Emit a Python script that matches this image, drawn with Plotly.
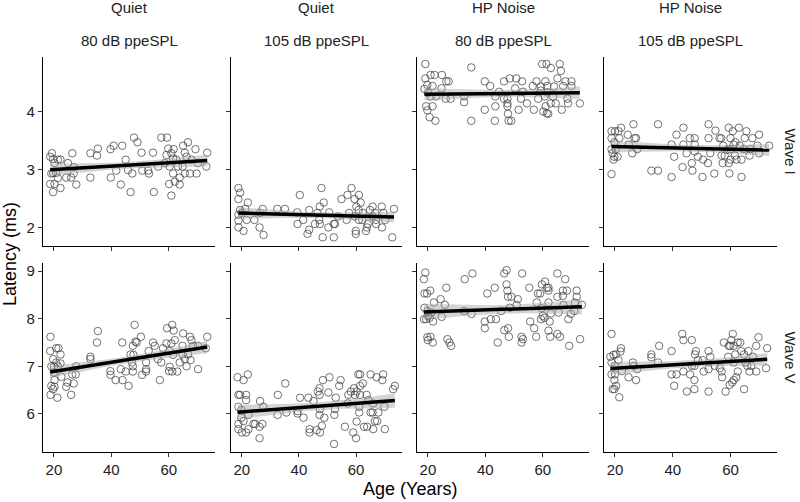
import numpy as np
import plotly.graph_objects as go

# facet labels
col_top = ["Quiet", "Quiet", "HP Noise", "HP Noise"]
col_bottom = ["80 dB ppeSPL", "105 dB ppeSPL", "80 dB ppeSPL", "105 dB ppeSPL"]
row_labels = ["Wave I", "Wave V"]

# Wave I, Quiet, 80 dB
age_q80_w1 = [19.3, 18.7, 19.7, 21.4, 22.3, 20.2, 24.9, 26.4, 26.9, 19.7, 20.8, 19.1, 26.9, 21.4, 24.3, 26.0,
              27.8, 18.7, 20.2, 22.3, 19.7, 32.7, 35.0, 35.3, 32.7, 39.7, 40.8, 43.8, 45.0, 41.7, 39.8, 43.3,
              46.7, 45.8, 47.3, 47.9, 49.1, 50.5, 50.8, 52.8, 53.1, 54.8, 54.5, 56.3, 57.4, 59.4, 59.8, 59.2,
              60.9, 61.7, 61.5, 60.3, 61.5, 60.1, 60.9, 62.1, 63.8, 63.8, 65.0, 66.7, 65.6, 66.2, 67.9, 64.8,
              67.4, 65.6, 69.3, 69.7, 70.2, 73.4, 73.1, 63.2, 62.6, 58.6]
lat_q80_w1 = [3.28, 3.22, 3.18, 3.17, 3.17, 3.11, 3.11, 3.28, 3.04, 2.94, 2.94, 2.93, 2.93, 2.85, 2.86, 2.86,
              2.74, 2.75, 2.75, 2.68, 2.61, 3.28, 3.24, 3.36, 2.86, 3.35, 3.41, 3.41, 3.17, 2.98, 2.86, 2.74,
              2.61, 2.99, 2.93, 3.55, 3.47, 3.29, 2.98, 2.98, 2.93, 2.61, 3.29, 3.05, 3.55, 3.55, 3.36, 3.25,
              3.28, 3.35, 3.19, 3.05, 2.93, 2.75, 2.55, 2.79, 2.86, 2.74, 3.41, 3.47, 3.29, 3.22, 3.17, 3.05,
              2.93, 2.93, 3.35, 2.93, 3.11, 3.29, 3.05, 3.05, 3.17, 3.11]

# Wave I, Quiet, 105 dB
age_q105_w1 = [18.8, 19.4, 18.8, 22.1, 19.4, 21.2, 18.8, 20.0, 18.8, 21.7, 24.4, 18.8, 20.6, 26.2, 27.6, 26.4,
               27.3, 32.4, 35.1, 40.3, 39.4, 41.5, 39.5, 43.6, 43.6, 43.0, 47.9, 48.7, 47.3, 46.5, 47.1, 45.6,
               47.3, 48.3, 50.6, 50.3, 52.2, 52.6, 52.2, 54.9, 53.7, 57.0, 58.4, 56.7, 57.6, 59.5, 61.0, 61.6,
               60.1, 60.9, 59.5, 61.0, 59.9, 59.9, 62.4, 63.5, 64.1, 63.8, 64.9, 65.8, 65.8, 66.7, 67.0, 69.0,
               69.6, 69.1, 70.2, 73.3, 72.7, 62.2, 67.0]
lat_q105_w1 = [2.68, 2.60, 2.49, 2.43, 2.30, 2.32, 2.22, 2.25, 2.12, 2.13, 2.13, 2.00, 1.94, 2.00, 1.87, 2.25,
               2.32, 2.32, 2.32, 2.56, 2.26, 2.13, 2.06, 2.30, 1.96, 1.89, 2.68, 2.43, 2.36, 2.25, 2.13, 2.06,
               2.06, 1.83, 2.26, 2.00, 2.06, 2.06, 1.83, 2.49, 2.19, 2.56, 2.68, 2.13, 2.25, 2.49, 2.56, 2.43,
               2.36, 2.30, 2.19, 2.13, 1.94, 1.89, 2.25, 1.94, 2.06, 2.00, 2.30, 2.36, 2.19, 2.25, 2.06, 2.36,
               2.25, 2.00, 2.13, 2.32, 1.83, 2.13, 2.13]

# Wave I, HP Noise, 80 dB
age_n80_w1 = [19.1, 35.1, 59.8, 61.3, 65.9, 62.8, 66.3, 20.9, 22.3, 24.9, 19.1, 26.4, 27.2, 19.8, 39.8, 46.5,
              48.5, 50.8, 52.8, 57.8, 60.9, 65.1, 67.9, 70.0, 21.6, 18.8, 24.7, 20.0, 20.9, 22.9, 41.7, 50.4,
              56.5, 59.3, 61.6, 63.9, 67.1, 70.0, 44.8, 53.1, 59.3, 61.6, 26.2, 27.9, 32.6, 43.5, 46.5, 47.7,
              52.4, 58.4, 60.7, 63.6, 68.6, 32.6, 19.4, 21.6, 47.7, 54.5, 62.8, 64.5, 68.8, 72.9, 43.5, 47.7,
              61.0, 19.8, 39.8, 51.6, 56.9, 66.6, 60.2, 61.4, 61.9, 47.9, 20.6, 48.1, 22.6, 35.1, 43.3, 49.0]
lat_n80_w1 = [4.82, 4.76, 4.82, 4.82, 4.82, 4.75, 4.70, 4.63, 4.63, 4.63, 4.57, 4.52, 4.52, 4.46, 4.52, 4.52,
              4.57, 4.57, 4.52, 4.52, 4.52, 4.57, 4.52, 4.52, 4.44, 4.39, 4.40, 4.32, 4.26, 4.26, 4.44, 4.40,
              4.44, 4.43, 4.44, 4.43, 4.44, 4.44, 4.34, 4.34, 4.36, 4.33, 4.22, 4.22, 4.26, 4.26, 4.22, 4.22,
              4.22, 4.22, 4.26, 4.26, 4.22, 4.16, 4.09, 4.09, 4.14, 4.14, 4.14, 4.14, 4.14, 4.14, 4.09, 4.09,
              4.09, 4.02, 4.03, 4.03, 4.03, 4.03, 4.00, 3.97, 3.96, 3.96, 3.90, 3.84, 3.84, 3.84, 3.84, 3.84]

# Wave I, HP Noise, 105 dB
age_n105_w1 = [18.8, 20.0, 21.2, 22.1, 26.4, 34.9, 43.7, 52.4, 59.4, 62.9, 54.8, 60.8, 65.5, 18.8, 21.5, 24.4,
               26.8, 27.3, 41.3, 45.9, 47.6, 52.4, 56.2, 56.8, 60.0, 64.9, 67.6, 69.9, 19.8, 24.8, 27.7, 18.8,
               26.0, 39.6, 43.7, 47.6, 57.5, 61.1, 61.7, 63.2, 69.3, 73.4, 20.3, 44.8, 47.6, 48.7, 53.0, 58.8,
               60.0, 64.6, 66.9, 69.9, 19.2, 19.5, 20.9, 19.8, 40.5, 50.5, 56.9, 58.0, 61.5, 62.1, 63.8, 66.6,
               60.0, 46.6, 52.2, 57.3, 59.4, 43.4, 46.8, 18.8, 32.6, 34.9, 39.6, 50.3, 54.4, 59.6, 63.8]
lat_n105_w1 = [3.66, 3.66, 3.66, 3.72, 3.78, 3.78, 3.72, 3.78, 3.72, 3.72, 3.67, 3.66, 3.66, 3.54, 3.54, 3.60,
               3.54, 3.54, 3.60, 3.54, 3.54, 3.54, 3.54, 3.54, 3.54, 3.54, 3.54, 3.60, 3.47, 3.43, 3.35, 3.35,
               3.28, 3.43, 3.43, 3.43, 3.41, 3.43, 3.47, 3.41, 3.41, 3.41, 3.35, 3.28, 3.31, 3.22, 3.28, 3.34,
               3.35, 3.35, 3.35, 3.28, 3.28, 3.17, 3.22, 3.22, 3.22, 3.17, 3.24, 3.24, 3.24, 3.17, 3.17, 3.24,
               3.17, 3.11, 3.11, 3.11, 3.11, 3.04, 2.98, 2.92, 2.98, 2.98, 2.87, 2.87, 2.93, 2.93, 2.87]

# Wave V, Quiet, 80 dB
age_q80_w5 = [18.8, 18.7, 20.8, 21.6, 22.3, 19.7, 20.8, 22.3, 19.1, 20.0, 21.4, 27.8, 20.0, 26.4, 27.6, 22.6,
              20.2, 24.7, 26.9, 19.1, 20.2, 19.7, 24.3, 18.8, 26.0, 21.2, 32.7, 32.7, 35.3, 35.0, 39.7, 39.7,
              41.5, 43.3, 43.8, 43.9, 45.0, 46.0, 46.7, 47.5, 48.1, 48.4, 47.7, 47.2, 47.5, 47.5, 48.8, 50.3,
              50.7, 52.1, 52.1, 52.1, 53.0, 54.5, 55.1, 56.2, 56.9, 57.4, 58.0, 59.2, 59.4, 61.2, 61.7, 60.3,
              60.9, 61.5, 60.3, 60.1, 61.2, 63.0, 62.1, 63.8, 65.0, 64.8, 64.8, 65.6, 66.2, 66.7, 67.4, 67.9,
              67.6, 68.5, 70.2, 70.2, 73.4, 72.9]
lat_q80_w5 = [7.62, 7.32, 7.38, 7.38, 7.25, 7.15, 7.08, 7.06, 7.00, 6.99, 7.00, 7.00, 6.87, 6.83, 6.83, 6.78,
              6.71, 6.66, 6.64, 6.59, 6.57, 6.52, 6.57, 6.40, 6.40, 6.34, 7.20, 7.15, 7.74, 7.50, 6.90, 6.82,
              6.71, 6.94, 7.50, 6.71, 6.89, 6.59, 7.25, 7.43, 7.87, 7.52, 7.24, 7.08, 7.00, 6.89, 7.50, 7.62,
              6.82, 7.08, 6.94, 6.89, 7.32, 7.50, 7.43, 7.15, 6.71, 7.08, 7.38, 7.48, 7.80, 7.87, 7.75, 7.32,
              7.48, 7.24, 6.99, 6.90, 6.89, 6.89, 7.55, 7.08, 7.69, 7.43, 7.25, 7.15, 7.00, 7.25, 7.62, 7.55,
              7.13, 7.43, 6.94, 7.43, 7.62, 7.38]

# Wave V, Quiet, 105 dB
age_q105_w5 = [18.5, 22.1, 20.6, 35.2, 47.2, 48.4, 50.7, 54.6, 54.1, 61.4, 60.8, 65.1, 67.2, 69.5, 69.2, 18.8,
               19.4, 21.5, 21.5, 32.6, 40.4, 43.3, 46.6, 47.2, 50.3, 52.9, 57.3, 58.2, 59.3, 59.6, 60.2, 61.4,
               62.4, 61.4, 63.7, 64.3, 66.0, 18.8, 19.8, 22.3, 26.4, 27.5, 35.6, 32.5, 39.5, 39.5, 41.6, 45.1,
               47.2, 47.4, 48.9, 52.6, 52.4, 57.1, 61.1, 61.1, 60.2, 65.1, 65.8, 67.8, 69.9, 73.0, 73.6, 19.8,
               20.6, 18.8, 24.1, 24.7, 27.2, 26.2, 18.8, 20.0, 21.5, 22.3, 26.2, 43.7, 43.7, 46.2, 47.4, 48.0,
               52.3, 56.1, 59.0, 60.0, 62.8, 63.9, 66.0, 66.6, 67.4, 70.1]
lat_q105_w5 = [6.77, 6.83, 6.71, 6.64, 6.54, 6.71, 6.77, 6.71, 6.59, 6.83, 6.83, 6.83, 6.77, 6.83, 6.71, 6.40,
               6.40, 6.40, 6.29, 6.40, 6.34, 6.34, 6.47, 6.40, 6.45, 6.34, 6.40, 6.47, 6.54, 6.40, 6.47, 6.59,
               6.64, 6.40, 6.40, 6.29, 6.22, 6.15, 6.08, 5.98, 6.27, 6.15, 6.03, 5.98, 6.06, 6.01, 5.92, 6.27,
               5.98, 6.10, 5.92, 6.10, 5.98, 6.22, 6.15, 6.03, 5.84, 6.03, 6.03, 6.03, 6.15, 6.52, 6.59, 5.92,
               5.85, 5.79, 5.79, 5.79, 5.79, 5.73, 5.68, 5.61, 5.61, 5.68, 5.49, 5.68, 5.61, 5.66, 5.61, 5.75,
               5.37, 5.73, 5.61, 5.49, 5.73, 5.73, 5.68, 5.85, 5.85, 5.68]

# Wave V, HP Noise, 80 dB
age_n80_w5 = [19.1, 18.6, 18.8, 19.7, 20.8, 26.4, 24.4, 22.1, 25.9, 18.8, 19.8, 21.2, 20.0, 18.6, 19.4, 20.6,
              21.8, 24.8, 19.8, 20.9, 20.0, 21.7, 26.8, 27.5, 28.1, 32.8, 35.5, 32.6, 35.2, 40.7, 43.3, 39.8,
              41.9, 43.7, 39.8, 44.3, 45.5, 46.6, 47.4, 47.4, 47.7, 47.9, 49.1, 48.5, 46.6, 47.9, 48.2, 51.3,
              50.9, 52.8, 52.6, 53.1, 52.6, 55.3, 55.6, 57.0, 57.7, 57.9, 58.3, 59.1, 59.7, 60.8, 61.4, 62.0,
              62.0, 59.6, 60.0, 59.4, 60.6, 62.0, 62.4, 62.0, 62.8, 62.6, 65.1, 65.1, 66.0, 65.5, 67.0, 67.0,
              67.2, 67.8, 68.4, 68.9, 69.2, 69.8, 71.2, 71.8, 71.8, 71.0, 73.6, 73.0, 65.1]
lat_n80_w5 = [8.97, 8.83, 8.53, 8.53, 8.59, 8.65, 8.41, 8.34, 8.29, 8.23, 8.16, 8.13, 8.06, 7.99, 7.99, 8.02,
              7.94, 8.04, 7.61, 7.62, 7.55, 7.50, 7.57, 7.50, 7.43, 8.83, 8.95, 8.16, 8.10, 8.53, 8.65, 7.94,
              7.99, 7.99, 7.80, 7.50, 8.16, 8.95, 9.02, 8.72, 8.59, 8.46, 8.46, 8.23, 7.76, 7.80, 7.62, 8.41,
              8.29, 8.95, 7.62, 7.57, 7.50, 8.65, 7.94, 7.80, 7.62, 8.34, 8.53, 8.53, 8.72, 8.78, 8.65, 8.65,
              8.59, 8.22, 8.06, 7.99, 8.02, 8.34, 7.94, 7.75, 8.11, 7.62, 8.95, 7.68, 7.62, 8.13, 8.59, 8.48,
              8.29, 8.83, 8.59, 7.99, 7.43, 8.10, 8.34, 8.59, 8.46, 8.16, 8.29, 7.57, 8.46]

# Wave V, HP Noise, 105 dB
age_n105_w5 = [18.8, 18.4, 19.5, 20.3, 22.1, 21.9, 21.2, 18.8, 20.0, 26.2, 26.5, 27.7, 22.4, 18.8, 20.0, 24.7,
               27.3, 19.8, 20.4, 19.2, 19.8, 21.5, 32.6, 32.6, 35.3, 34.9, 39.6, 39.6, 41.3, 40.5, 43.3, 43.7,
               43.7, 44.9, 46.6, 46.0, 47.5, 47.5, 48.0, 47.7, 46.6, 47.5, 48.7, 50.4, 50.7, 52.4, 53.0, 52.4,
               52.4, 54.5, 56.3, 57.1, 56.9, 57.7, 58.3, 59.4, 59.2, 59.7, 60.6, 59.9, 60.8, 60.3, 61.1, 61.7,
               61.1, 62.5, 63.4, 61.1, 62.0, 62.5, 63.7, 64.7, 64.7, 65.2, 65.8, 66.2, 66.6, 67.2, 67.8, 68.9,
               68.9, 69.7, 72.7, 72.3]
lat_n105_w5 = [7.68, 7.20, 7.24, 7.25, 7.38, 7.31, 7.13, 7.08, 7.01, 7.08, 7.01, 6.94, 6.90, 6.83, 6.83, 6.77,
               6.71, 6.71, 6.59, 6.52, 6.52, 6.35, 7.25, 7.19, 7.43, 7.08, 7.32, 6.83, 6.83, 6.59, 7.68, 7.55,
               6.89, 6.47, 7.55, 6.83, 6.71, 6.52, 7.32, 7.25, 7.01, 7.01, 7.13, 7.13, 6.89, 7.32, 7.20, 6.94,
               6.47, 7.01, 6.96, 6.77, 6.89, 7.50, 6.47, 7.43, 7.20, 6.61, 6.66, 7.43, 7.68, 7.55, 7.43, 7.25,
               7.08, 7.50, 7.50, 6.71, 6.77, 6.89, 7.32, 7.25, 6.52, 7.08, 7.01, 7.32, 6.89, 7.01, 7.20, 7.43,
               6.89, 7.61, 7.38, 6.96]

panels = [
    [(age_q80_w1, lat_q80_w1), (age_q105_w1, lat_q105_w1), (age_n80_w1, lat_n80_w1), (age_n105_w1, lat_n105_w1)],
    [(age_q80_w5, lat_q80_w5), (age_q105_w5, lat_q105_w5), (age_n80_w5, lat_n80_w5), (age_n105_w5, lat_n105_w5)],
]

W, H = 800, 502
col_px = [(43, 215), (231, 402), (417, 589), (604, 777)]
row_px = [(57, 246), (263, 452)]
y_ranges = [[1.68, 4.94], [5.2, 9.17]]
y_ticks = [[2, 3, 4], [6, 7, 8, 9]]

FONT = "Liberation Sans, Arial, sans-serif"


def fit_band(x, y):
    # linear fit with 95% confidence band, like geom_smooth(method="lm")
    x = np.asarray(x, float)
    y = np.asarray(y, float)
    n = len(x)
    b, a = np.polyfit(x, y, 1)
    resid = y - (a + b * x)
    s = np.sqrt(np.sum(resid ** 2) / (n - 2))
    xs = np.linspace(x.min(), x.max(), 80)
    se = s * np.sqrt(1 / n + (xs - x.mean()) ** 2 / np.sum((x - x.mean()) ** 2))
    fit = a + b * xs
    return xs, fit, fit - 1.99 * se, fit + 1.99 * se


fig = go.Figure()
layout = {}
k = 0
for r in range(2):
    for c in range(4):
        k += 1
        xa = "x" if k == 1 else f"x{k}"
        ya = "y" if k == 1 else f"y{k}"
        ages, lats = panels[r][c]
        xs, fit, lo, hi = fit_band(ages, lats)

        fig.add_trace(go.Scatter(x=ages, y=lats, mode="markers", xaxis=xa, yaxis=ya, showlegend=False,
                                 marker=dict(symbol="circle-open", size=7.5, color="rgba(70,70,70,0.85)",
                                             line=dict(width=0.9))))
        fig.add_trace(go.Scatter(x=np.concatenate([xs, xs[::-1]]), y=np.concatenate([hi, lo[::-1]]),
                                 fill="toself", fillcolor="rgba(160,160,160,0.45)", line=dict(width=0),
                                 mode="lines", xaxis=xa, yaxis=ya, showlegend=False, hoverinfo="skip"))
        fig.add_trace(go.Scatter(x=xs, y=fit, mode="lines", xaxis=xa, yaxis=ya, showlegend=False,
                                 line=dict(color="black", width=3.5)))

        x0, x1 = col_px[c]
        y0, y1 = row_px[r]
        axis_common = dict(showline=True, linecolor="black", linewidth=1.3, ticks="outside", ticklen=4,
                           tickwidth=1.2, tickcolor="#333333", showgrid=False, zeroline=False,
                           automargin=False,
                           tickfont=dict(family=FONT, size=15, color="#222222"))
        layout["xaxis" if k == 1 else f"xaxis{k}"] = dict(
            axis_common, domain=[x0 / W, x1 / W], anchor=ya, range=[16.2, 76.1],
            tickvals=[20, 40, 60], showticklabels=(r == 1))
        layout["yaxis" if k == 1 else f"yaxis{k}"] = dict(
            axis_common, domain=[1 - y1 / H, 1 - y0 / H], anchor=xa, range=y_ranges[r],
            tickvals=y_ticks[r], showticklabels=(c == 0))

annotations = []
txt = dict(xref="paper", yref="paper", xanchor="center", yanchor="middle", showarrow=False)
for c in range(4):
    xc = (col_px[c][0] + col_px[c][1]) / 2 / W
    annotations.append(dict(txt, text=col_top[c], x=xc, y=1 - 8 / H,
                            font=dict(family=FONT, size=15, color="#222222")))
    annotations.append(dict(txt, text=col_bottom[c], x=xc, y=1 - 40 / H,
                            font=dict(family=FONT, size=15, color="#222222")))
for r in range(2):
    yc = 1 - (row_px[r][0] + row_px[r][1]) / 2 / H
    annotations.append(dict(txt, text=row_labels[r], x=790 / W, y=yc, textangle=90,
                            font=dict(family=FONT, size=15, color="#222222")))
annotations.append(dict(txt, text="Latency (ms)", x=10 / W, y=1 - 254 / H, textangle=-90,
                        font=dict(family=FONT, size=18, color="black")))
annotations.append(dict(txt, text="Age (Years)", x=410 / W, y=1 - 489 / H,
                        font=dict(family=FONT, size=18, color="black")))

fig.update_layout(**layout)
fig.update_layout(width=W, height=H, margin=dict(l=0, r=0, t=0, b=0), plot_bgcolor="white",
                  paper_bgcolor="white", annotations=annotations, showlegend=False)

# drop the browser's default 8px body margin so the figure fills the window
fig.write_html("out.html", config={"displayModeBar": False},
               post_script="document.body.style.margin = '0';")
